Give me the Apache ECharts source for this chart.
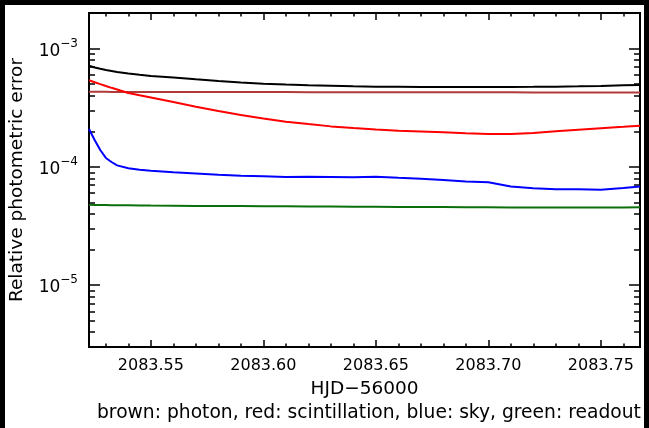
<!DOCTYPE html>
<html><head><meta charset="utf-8">
<script src="https://cdn.jsdelivr.net/npm/echarts@6/dist/echarts.min.js"></script>
<style>
html,body{margin:0;padding:0;background:#000;width:649px;height:428px;overflow:hidden;}
#paper{position:absolute;left:5px;top:5px;width:639px;height:423px;background:#fff;}
#c{position:absolute;left:0;top:0;width:649px;height:428px;}
</style></head>
<body><div id="paper"></div><div id="c"></div>
<script>
// ---- data ----
const hjd = [2083.5225, 2083.525, 2083.5275, 2083.53, 2083.5325, 2083.535, 2083.54, 2083.545, 2083.55,
  2083.56, 2083.57, 2083.58, 2083.59, 2083.60, 2083.61, 2083.62, 2083.63, 2083.64, 2083.65, 2083.66,
  2083.67, 2083.68, 2083.69, 2083.70, 2083.71, 2083.72, 2083.73, 2083.74, 2083.75, 2083.76, 2083.7674];
const totalErr = [7.17e-4, 6.92e-4, 6.75e-4, 6.60e-4, 6.47e-4, 6.34e-4, 6.16e-4, 6.01e-4, 5.87e-4,
  5.70e-4, 5.50e-4, 5.32e-4, 5.16e-4, 5.04e-4, 4.96e-4, 4.90e-4, 4.85e-4, 4.80e-4, 4.77e-4, 4.76e-4,
  4.74e-4, 4.74e-4, 4.73e-4, 4.73e-4, 4.74e-4, 4.75e-4, 4.77e-4, 4.80e-4, 4.84e-4, 4.89e-4, 4.93e-4];
const photonErr = [4.31e-4, 4.31e-4, 4.31e-4, 4.31e-4, 4.30e-4, 4.30e-4, 4.30e-4, 4.30e-4, 4.30e-4,
  4.30e-4, 4.30e-4, 4.29e-4, 4.29e-4, 4.29e-4, 4.29e-4, 4.28e-4, 4.28e-4, 4.28e-4, 4.28e-4, 4.28e-4,
  4.27e-4, 4.27e-4, 4.27e-4, 4.27e-4, 4.27e-4, 4.26e-4, 4.26e-4, 4.26e-4, 4.26e-4, 4.26e-4, 4.26e-4];
const scintErr = [5.40e-4, 5.20e-4, 5.01e-4, 4.83e-4, 4.66e-4, 4.51e-4, 4.22e-4, 4.03e-4, 3.86e-4,
  3.54e-4, 3.23e-4, 2.97e-4, 2.75e-4, 2.57e-4, 2.41e-4, 2.30e-4, 2.20e-4, 2.13e-4, 2.07e-4, 2.02e-4,
  1.99e-4, 1.96e-4, 1.92e-4, 1.90e-4, 1.90e-4, 1.93e-4, 2.00e-4, 2.06e-4, 2.12e-4, 2.18e-4, 2.23e-4];
const skyErr = [2.09e-4, 1.69e-4, 1.39e-4, 1.19e-4, 1.10e-4, 1.03e-4, 9.73e-5, 9.47e-5, 9.27e-5,
  9.00e-5, 8.80e-5, 8.58e-5, 8.41e-5, 8.33e-5, 8.22e-5, 8.25e-5, 8.22e-5, 8.18e-5, 8.25e-5, 8.09e-5,
  7.95e-5, 7.75e-5, 7.53e-5, 7.41e-5, 6.83e-5, 6.60e-5, 6.47e-5, 6.48e-5, 6.42e-5, 6.63e-5, 6.83e-5];
const readoutErr = [4.78e-5, 4.76e-5, 4.76e-5, 4.75e-5, 4.74e-5, 4.74e-5, 4.73e-5, 4.72e-5, 4.71e-5,
  4.70e-5, 4.68e-5, 4.67e-5, 4.66e-5, 4.65e-5, 4.64e-5, 4.63e-5, 4.62e-5, 4.61e-5, 4.60e-5, 4.59e-5,
  4.58e-5, 4.57e-5, 4.56e-5, 4.55e-5, 4.54e-5, 4.53e-5, 4.53e-5, 4.53e-5, 4.54e-5, 4.54e-5, 4.55e-5];

const xMin = 2083.5225, xMax = 2083.7674;
const xMajorTicks = [2083.55, 2083.60, 2083.65, 2083.70, 2083.75];
const xMinorTicks = [2083.53, 2083.54, 2083.56, 2083.57, 2083.58, 2083.59, 2083.61, 2083.62, 2083.63,
  2083.64, 2083.66, 2083.67, 2083.68, 2083.69, 2083.71, 2083.72, 2083.73, 2083.74, 2083.76];
const yMin = 3e-6, yMax = 2e-3;
const yMajorExponents = [-5, -4, -3];
const yMinorValues = [4e-6, 5e-6, 6e-6, 7e-6, 8e-6, 9e-6,
  2e-5, 3e-5, 4e-5, 5e-5, 6e-5, 7e-5, 8e-5, 9e-5,
  2e-4, 3e-4, 4e-4, 5e-4, 6e-4, 7e-4, 8e-4, 9e-4];

const xLabel = 'HJD\u221256000';
const yLabel = 'Relative photometric error';
const note = 'brown: photon, red: scintillation, blue: sky, green: readout';

// ---- chart ----
const FONT = 'DejaVu Sans';
const FS = 16;      // tick labels
const FS_T = 18.5;  // titles / note
const lg = v => Math.log10(v);
const tickStyle = {color: '#000', width: 1.5};

function xAx(pos, values, len, labels) {
  return {
    type: 'value', position: pos, min: xMin, max: xMax,
    axisLine: {show: false}, splitLine: {show: false},
    axisTick: {show: true, inside: true, length: len, customValues: values, lineStyle: tickStyle},
    axisLabel: labels ? {show: true, customValues: values, formatter: v => v.toFixed(2),
      color: '#000', fontFamily: FONT, fontSize: FS, margin: 11} : {show: false}
  };
}
function yAx(pos, values, len, labels) {
  return {
    type: 'value', position: pos, min: lg(yMin), max: lg(yMax),
    axisLine: {show: false}, splitLine: {show: false},
    axisTick: {show: true, inside: true, length: len, customValues: values, lineStyle: tickStyle},
    axisLabel: labels ? {show: true, customValues: yMajorExponents,
      formatter: v => '{b|10}{e|' + String(Math.round(v)).replace('-', '\u2212') + '}',
      margin: 11,
      rich: {
        b: {fontFamily: FONT, fontSize: FS + 1, color: '#000', lineHeight: 22, verticalAlign: 'bottom'},
        e: {fontFamily: FONT, fontSize: 12, color: '#000', lineHeight: 12, verticalAlign: 'top'}
      }} : {show: false}
  };
}

const yMajorLog = yMajorExponents.slice();
const yMinorLog = yMinorValues.map(lg);

const xAxes = [xAx('bottom', xMajorTicks, 7, true), xAx('bottom', xMinorTicks, 3.5, false),
               xAx('top', xMajorTicks, 7, false), xAx('top', xMinorTicks, 3.5, false)];
xAxes[0].name = xLabel;
xAxes[0].nameLocation = 'middle';
xAxes[0].nameGap = 33;
xAxes[0].nameTextStyle = {fontFamily: FONT, fontSize: FS_T, color: '#000'};

const yAxes = [
  {type: 'log', logBase: 10, min: yMin, max: yMax, show: false},
  yAx('left', yMajorLog, 11, true), yAx('left', yMinorLog, 6, false),
  yAx('right', yMajorLog, 11, false), yAx('right', yMinorLog, 6, false)
];
yAxes[1].name = yLabel;
yAxes[1].nameLocation = 'middle';
yAxes[1].nameGap = 62;
yAxes[1].nameTextStyle = {fontFamily: FONT, fontSize: FS_T, color: '#000'};

function line(name, vals, color) {
  return {
    name: name, type: 'line', xAxisIndex: 0, yAxisIndex: 0,
    data: hjd.map((x, i) => [x, vals[i]]),
    showSymbol: false, symbol: 'none', smooth: false,
    lineStyle: {color: color, width: 2}, itemStyle: {color: color}, z: 3
  };
}

const chart = echarts.init(document.getElementById('c'), null, {renderer: 'canvas'});
chart.setOption({
  backgroundColor: 'transparent',
  animation: false,
  title: {text: note, left: 97, top: 404, padding: 0,
    textStyle: {fontFamily: FONT, fontSize: 18.7, fontWeight: 'normal', color: '#000'}},
  grid: {left: 89, top: 13, right: 9, bottom: 81, show: true, borderColor: '#000', borderWidth: 2,
         backgroundColor: 'transparent', containLabel: false, outerBoundsMode: 'none'},
  xAxis: xAxes,
  yAxis: yAxes,
  series: [
    line('photon', photonErr, '#b03a3a'),
    line('readout', readoutErr, '#0b700b'),
    line('sky', skyErr, '#0000ff'),
    line('scintillation', scintErr, '#ff0000'),
    line('total', totalErr, '#000000')
  ]
});
</script></body></html>
